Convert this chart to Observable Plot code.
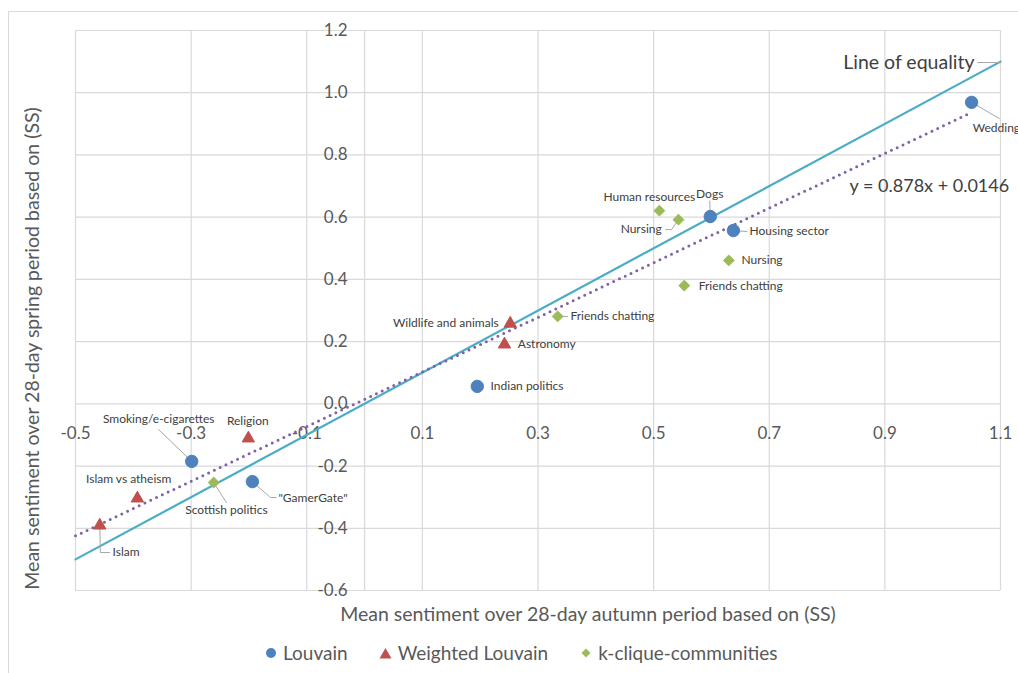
<!DOCTYPE html>
<html>
<head>
<meta charset="utf-8">
<script src="https://cdn.jsdelivr.net/npm/d3@7"></script>
<script src="https://cdn.jsdelivr.net/npm/@observablehq/plot@0.6"></script>
<style>
  html, body { margin: 0; padding: 0; background: #fff; }
  #wrap { position: relative; width: 1018px; height: 673px; overflow: hidden; font-family: Lato, "Open Sans", sans-serif; }
  #border { position: absolute; left: 8px; top: 11px; width: 1030px; height: 680px; border: 1px solid #d9d9d9; box-sizing: border-box; }
  #chart { position: absolute; left: 0; top: 0; }
  #legend { position: absolute; left: 265px; top: 641px; display: flex; align-items: center; font-size: 19px; color: #595959; white-space: nowrap; }
  #legend .item { display: flex; align-items: center; }
  #legend svg { margin-right: 6px; }
</style>
</head>
<body>
<div id="wrap">
  <div id="border"></div>
  <div id="chart"></div>
  <div id="legend"></div>
</div>
<script>
// ---- Data ----
const seriesNames = ["Louvain", "Weighted Louvain", "k-clique-communities"];
const seriesColors = ["#4f81bd", "#c0504d", "#9bbb59"];

const louvainNames = ["Wedding", "Dogs", "Housing sector", "Indian politics", "Smoking/e-cigarettes", "\"GamerGate\""];
const louvainX = [1.05, 0.598, 0.638, 0.195, -0.299, -0.194];
const louvainY = [0.969, 0.602, 0.557, 0.056, -0.185, -0.250];

const weightedNames = ["Islam", "Islam vs atheism", "Religion", "Wildlife and animals", "Astronomy"];
const weightedX = [-0.458, -0.393, -0.201, 0.252, 0.242];
const weightedY = [-0.391, -0.304, -0.111, 0.258, 0.191];

const kcliqueNames = ["Human resources", "Nursing", "Nursing", "Friends chatting", "Friends chatting", "Scottish politics"];
const kcliqueX = [0.510, 0.543, 0.630, 0.553, 0.334, -0.261];
const kcliqueY = [0.621, 0.592, 0.461, 0.380, 0.281, -0.253];

const xTicks = [-0.5, -0.3, -0.1, 0.1, 0.3, 0.5, 0.7, 0.9, 1.1];
const xTickLabels = ["-0.5", "-0.3", "-0.1", "0.1", "0.3", "0.5", "0.7", "0.9", "1.1"];
const yTicks = [-0.6, -0.4, -0.2, 0.0, 0.2, 0.4, 0.6, 0.8, 1.0, 1.2];
const yTickLabels = ["-0.6", "-0.4", "-0.2", "0.0", "0.2", "0.4", "0.6", "0.8", "1.0", "1.2"];

const trendSlope = 0.878;
const trendIntercept = 0.0146;
const trendLabel = "y = 0.878x + 0.0146";
const equalityLabel = "Line of equality";
const xTitle = "Mean sentiment over 28-day autumn period based on (SS)";
const yTitle = "Mean sentiment over 28-day spring period based on (SS)";

// ---- Label layout (data units), separate from the data ----
const louvainLabelLayout = [
  {lx: 1.052, ly: 0.885, anchor: "start", leader: [[1.098, 0.917]]},
  {lx: 0.597, ly: 0.673, anchor: "middle", leader: [[0.597, 0.652]]},
  {lx: 0.666, ly: 0.554, anchor: "start", leader: [[0.661, 0.554]]},
  {lx: 0.218, ly: 0.056, anchor: "start", leader: []},
  {lx: -0.356, ly: -0.050, anchor: "middle", leader: [[-0.356, -0.083]]},
  {lx: -0.149, ly: -0.304, anchor: "start", leader: [[-0.163, -0.301], [-0.153, -0.301]]}
];
const weightedLabelLayout = [
  {lx: -0.436, ly: -0.478, anchor: "start", leader: [[-0.457, -0.478], [-0.441, -0.478]]},
  {lx: -0.408, ly: -0.243, anchor: "middle", leader: []},
  {lx: -0.202, ly: -0.057, anchor: "middle", leader: []},
  {lx: 0.232, ly: 0.258, anchor: "end", leader: []},
  {lx: 0.265, ly: 0.191, anchor: "start", leader: []}
];
const kcliqueLabelLayout = [
  {lx: 0.572, ly: 0.663, anchor: "end", leader: []},
  {lx: 0.514, ly: 0.560, anchor: "end", leader: [[0.531, 0.560], [0.521, 0.560]]},
  {lx: 0.652, ly: 0.461, anchor: "start", leader: []},
  {lx: 0.578, ly: 0.377, anchor: "start", leader: []},
  {lx: 0.356, ly: 0.281, anchor: "start", leader: [[0.351, 0.281]]},
  {lx: -0.239, ly: -0.343, anchor: "middle", leader: [[-0.239, -0.317]]}
];

// ---- Build tables ----
const seriesDefs = [
  {names: louvainNames, xs: louvainX, ys: louvainY, layout: louvainLabelLayout, symbol: "circle", r: 6.2},
  {names: weightedNames, xs: weightedX, ys: weightedY, layout: weightedLabelLayout, symbol: "triangle", r: 4.6},
  {names: kcliqueNames, xs: kcliqueX, ys: kcliqueY, layout: kcliqueLabelLayout, symbol: "diamond2", r: 4.9}
];
const points = [];
const leaderPts = [];
seriesDefs.forEach((s, si) => {
  s.names.forEach((name, i) => {
    const L = s.layout[i];
    points.push({series: seriesNames[si], name, x: s.xs[i], y: s.ys[i], ...L});
    if (L.leader.length) {
      const id = si + "-" + i;
      leaderPts.push({id, x: s.xs[i], y: s.ys[i]});
      L.leader.forEach(([lx, ly]) => leaderPts.push({id, x: lx, y: ly}));
    }
  });
});

const xDomain = [-0.5, 1.1];
const yDomain = [-0.6, 1.2];
const trendEnd = d3.max([...louvainX, ...weightedX, ...kcliqueX]);
const trendPts = [xDomain[0], trendEnd].map(x => ({x, y: trendSlope * x + trendIntercept}));
const equalityPts = xDomain.map(x => ({x, y: x}));
const xTickTable = xTicks.map((v, i) => ({v, label: xTickLabels[i]}));
const yTickTable = yTicks.map((v, i) => ({v, label: yTickLabels[i]}));

const grayText = "#595959";
const labelText = "#404040";

const marks = [
  Plot.ruleX([...xTicks, 0], {stroke: "#d9d9d9", strokeWidth: 1.2}),
  Plot.ruleY(yTicks, {stroke: "#d9d9d9", strokeWidth: 1.2}),
  Plot.text(xTickTable, {x: "v", y: () => 0, text: "label", dy: 30, fontSize: 17, fill: grayText}),
  Plot.text(yTickTable, {x: () => 0, y: "v", text: "label", dx: -17, textAnchor: "end", fontSize: 17, fill: grayText}),
  Plot.line(equalityPts, {x: "x", y: "y", stroke: "#4bacc6", strokeWidth: 2.2}),
  Plot.line(trendPts, {x: "x", y: "y", stroke: "#7f63a6", strokeWidth: 3, strokeDasharray: "0,6.4", strokeLinecap: "round"}),
  Plot.line(leaderPts, {x: "x", y: "y", z: "id", stroke: "#a6a6a6", strokeWidth: 1}),
  Plot.link([{x1: 1.060, x2: 1.1, y: 1.097}], {x1: "x1", x2: "x2", y1: "y", y2: "y", stroke: "#a6a6a6", strokeWidth: 1}),
  ...seriesDefs.map((s, si) => Plot.dot(points.filter(p => p.series === seriesNames[si]), {
    x: "x", y: "y", symbol: () => s.symbol, r: s.r, fill: seriesColors[si], stroke: seriesColors[si], strokeWidth: 1
  })),
  ...["start", "middle", "end"].map(a => Plot.text(points.filter(p => p.anchor === a), {
    x: "lx", y: "ly", text: "name", textAnchor: a, fontSize: 12, fill: labelText
  })),
  Plot.text([equalityLabel], {x: () => 1.055, y: () => 1.097, textAnchor: "end", fontSize: 19.5, fill: labelText}),
  Plot.text([trendLabel], {x: () => 0.839, y: () => 0.699, textAnchor: "start", fontSize: 18, fill: labelText}),
  Plot.text([xTitle], {frameAnchor: "bottom", dx: 50, dy: 30, fontSize: 19.5, fill: grayText}),
  Plot.text([yTitle], {x: () => -0.574, y: () => 0.178, rotate: -90, fontSize: 19.5, fill: grayText})
];

const chart = Plot.plot({
  width: 1018,
  height: 632,
  marginLeft: 75,
  marginRight: 18,
  marginTop: 30,
  marginBottom: 42,
  x: {domain: xDomain, axis: null},
  y: {domain: yDomain, axis: null},
  symbol: {type: "identity"},
  style: {fontFamily: "Lato, 'Open Sans', sans-serif", background: "transparent", overflow: "visible"},
  marks
});
document.getElementById("chart").appendChild(chart);

// ---- Legend ----
const legendSymbols = [
  '<svg width="12" height="12"><circle cx="6" cy="6" r="5" fill="#4f81bd"/></svg>',
  '<svg width="13" height="12"><path d="M6.5,1 L12.5,11.5 L0.5,11.5 Z" fill="#c0504d"/></svg>',
  '<svg width="12" height="12"><path d="M6,1.5 L10.5,6 L6,10.5 L1.5,6 Z" fill="#9bbb59"/></svg>'
];
const legendGaps = [0, 31, 32];
const legend = document.getElementById("legend");
seriesNames.forEach((n, i) => {
  const item = document.createElement("div");
  item.className = "item";
  item.style.marginLeft = legendGaps[i] + "px";
  item.innerHTML = legendSymbols[i] + "<span>" + n + "</span>";
  legend.appendChild(item);
});
</script>
</body>
</html>
